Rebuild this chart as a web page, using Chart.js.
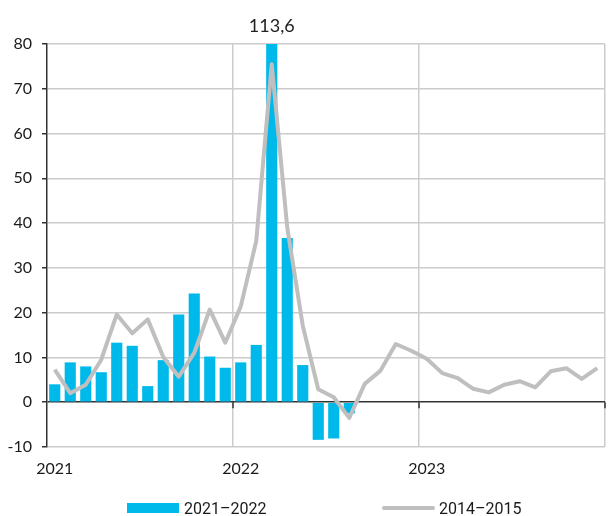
<!DOCTYPE html>
<html>
<head>
<meta charset="utf-8">
<script src="https://cdn.jsdelivr.net/npm/chart.js@4"></script>
<style>
  html, body { margin: 0; padding: 0; background: #fff; }
  #wrap { position: relative; width: 610px; height: 516px; }
  .lg { position: absolute; top: 498px; height: 20px; display: flex; align-items: center;
        font-family: Roboto, Lato, sans-serif; font-size: 16px; color: #1a1a1a; }
  .sw-bar { width: 52px; height: 10px; background: #00B9EB; margin-right: 5px; }
  .sw-line { width: 53px; height: 4px; border-radius: 2px; background: #BFBFBF; margin-right: 4px; }
</style>
</head>
<body>
<div id="wrap">
  <canvas id="c" width="610" height="516"></canvas>
  <div class="lg" style="left:127px"><span class="sw-bar"></span><span id="l1"></span></div>
  <div class="lg" style="left:382px"><span class="sw-line"></span><span id="l2"></span></div>
</div>
<script>
// ---- data ----
const months = [
  '01.2021','02.2021','03.2021','04.2021','05.2021','06.2021','07.2021','08.2021','09.2021','10.2021','11.2021','12.2021',
  '01.2022','02.2022','03.2022','04.2022','05.2022','06.2022','07.2022','08.2022','09.2022','10.2022','11.2022','12.2022',
  '01.2023','02.2023','03.2023','04.2023','05.2023','06.2023','07.2023','08.2023','09.2023','10.2023','11.2023','12.2023'
];
const yearTicks = ['2021', '2022', '2023'];
const seriesNames = ['2021–2022', '2014–2015'];
const values2021_2022 = [4.0, 8.9, 8.0, 6.7, 13.3, 12.6, 3.6, 9.4, 19.6, 24.3, 10.2, 7.7,
  8.9, 12.8, 113.6, 36.7, 8.3, -8.4, -8.1, -2.5, null, null, null, null,
  null, null, null, null, null, null, null, null, null, null, null, null];
const values2014_2015 = [7.3, 2.0, 3.9, 9.5, 19.6, 15.4, 18.5, 10.1, 5.7, 11.0, 20.7, 13.3,
  21.4, 36.0, 75.5, 39.0, 17.1, 2.9, 1.1, -3.5, 4.1, 7.0, 13.0, 11.5,
  9.7, 6.5, 5.4, 3.0, 2.2, 3.9, 4.7, 3.3, 6.9, 7.6, 5.2, 7.6];
const yMin = -10, yMax = 80, yStep = 10;

document.getElementById('l1').textContent = seriesNames[0];
document.getElementById('l2').textContent = seriesNames[1];

const FONT = 'Lato, "Open Sans", sans-serif';
const DARK = '#333333';
const GRID = '#CCCCCC';
const BAR = '#00B9EB';
const LINE = '#BFBFBF';

const extras = {
  id: 'extras',
  afterDatasetsDraw(chart) {
    const ctx = chart.ctx;
    const xs = chart.scales.x, ys = chart.scales.y;
    const y0 = ys.getPixelForValue(0);
    ctx.save();
    ctx.strokeStyle = DARK; ctx.lineWidth = 1.5;
    const n = months.length;
    for (let i = 12; i <= n; i += 12) {
      const xp = i < n ? (xs.getPixelForValue(i - 1) + xs.getPixelForValue(i)) / 2
                       : xs.getPixelForValue(n - 1) + (xs.getPixelForValue(n - 1) - xs.getPixelForValue(n - 2)) / 2;
      ctx.beginPath(); ctx.moveTo(xp, y0); ctx.lineTo(xp, y0 + 6); ctx.stroke();
    }
    const meta = chart.getDatasetMeta(0);
    values2021_2022.forEach((v, i) => {
      if (v !== null && v > yMax) {
        const el = meta.data[i];
        ctx.fillStyle = '#222';
        ctx.font = '18px ' + FONT;
        ctx.textAlign = 'center';
        ctx.textBaseline = 'middle';
        ctx.fillText(v.toFixed(1).replace('.', ','), el.x, chart.chartArea.top - 18);
      }
    });
    ctx.restore();
  }
};

new Chart(document.getElementById('c'), {
  data: {
    labels: months,
    datasets: [
      { type: 'line', label: seriesNames[1], data: values2014_2015, borderColor: LINE, borderWidth: 4,
        pointRadius: 0, tension: 0, order: 0, borderJoinStyle: 'round' },
      { type: 'bar', label: seriesNames[0], data: values2021_2022, backgroundColor: BAR,
        barPercentage: 0.72, categoryPercentage: 1, order: 1 }
    ]
  },
  options: {
    responsive: false,
    animation: false,
    devicePixelRatio: 1,
    layout: { padding: { top: 44, right: 5, bottom: 39, left: 0 } },
    plugins: { legend: { display: false }, tooltip: { enabled: false } },
    scales: {
      x: {
        type: 'category',
        offset: true,
        afterFit(s) { s.height = 30; },
        border: { display: false },
        grid: {
          offset: true,
          drawTicks: false,
          lineWidth: 1.5,
          color(c) {
            if (c.type === 'scale' || c.index === undefined) return GRID;
            return (c.index % 12 === 0 && c.index > 0) ? GRID : 'rgba(0,0,0,0)';
          }
        },
        ticks: {
          autoSkip: false, maxRotation: 0, padding: 12, color: '#1a1a1a',
          font: { family: FONT, size: 16 },
          callback(v, i) { return i % 12 === 0 ? yearTicks[i / 12] : ''; }
        }
      },
      y: {
        min: yMin, max: yMax,
        afterFit(s) { s.width = 47; },
        border: { display: true, color: DARK, width: 1.5 },
        grid: {
          lineWidth: 1.5,
          tickLength: 5,
          tickColor: DARK,
          color(c) { return c.tick && c.tick.value === 0 ? DARK : GRID; }
        },
        ticks: { stepSize: yStep, padding: 10, color: '#1a1a1a', font: { family: FONT, size: 16 } }
      }
    }
  },
  plugins: [extras]
});
</script>
</body>
</html>
